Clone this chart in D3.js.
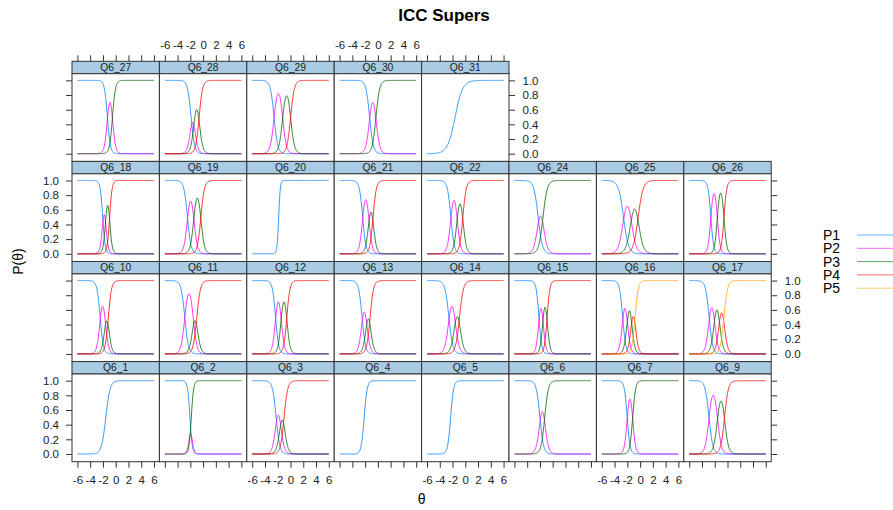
<!DOCTYPE html>
<html><head><meta charset="utf-8">
<script src="https://cdn.jsdelivr.net/npm/d3@7"></script>
<style>body{margin:0;background:#fff}svg{display:block;font-family:"Liberation Sans",Arial,sans-serif}</style>
</head><body><svg id="chart" width="893" height="510"></svg>
<script>
// ---- data ----
const itemNames = ["Q6_27","Q6_28","Q6_29","Q6_30","Q6_31",
  "Q6_18","Q6_19","Q6_20","Q6_21","Q6_22","Q6_24","Q6_25","Q6_26",
  "Q6_10","Q6_11","Q6_12","Q6_13","Q6_14","Q6_15","Q6_16","Q6_17",
  "Q6_1","Q6_2","Q6_3","Q6_4","Q6_5","Q6_6","Q6_7","Q6_9"];
const panelsPerRow = [5, 8, 8, 8];
// graded-response item slopes (a) and category boundaries (b), estimated from the curves
const slopes = [4.3,3.66,3.43,3.47,1.7, 5.12,3.62,8,3.9,3.74,3.0,2.58,4.55,
  3.94,3.49,4.03,3.71,3.22,4.63,4.05,3.57, 3,5.5,3.51,4.3,4.3,3.5,4.5,3.31];
const thresholds = [
  [-1.3,-0.5],[-1.88,-1.38,-0.62],[-2.575,-1.225,0.025],[-1.3,-0.3],[-1.6],
  [-2.03,-1.57,-0.95],[-2.45,-1.45,-0.35],[-1.85],[-2.385,-1.415,-0.755],[-2.265,-1.275,-0.385],[-2.28,-1.52],[-2.6,-1.4,-0.3],[-2.61,-1.59,-0.55],
  [-2.435,-1.645,-1.155],[-2.875,-1.545,-0.985],[-2.34,-1.46,-0.58],[-2.48,-1.78,-1.22],[-2.57,-1.61,-0.91],[-2.155,-1.525,-0.875],[-2.728,-2.012,-1.343,-0.787],[-2.876,-2.044,-1.268,-0.559],
  [-1.55],[-2.06,-1.85],[-2.245,-1.575,-1.005],[-2.15],[-2.3],[-2.0,-1.25],[-2.02,-1.16],[-2.895,-1.565,-0.465]
];
const categoryLabels = ["P1","P2","P3","P4","P5"];
const thetaTicks = [-6,-4,-2,0,2,4,6];
const probTicks = [0,0.2,0.4,0.6,0.8,1.0];
const thetaRange = [-6, 6];
const titleText = "ICC Supers";
const xLabel = "\u03b8";
const yLabel = "P(\u03b8)";

// ---- styles ----
const categoryColors = ["#0080ff","#ff00ff","#006400","#ff0000","#ffa500"];
const stripFill = "#a9cbe3";
const frameColor = "#333";

// ---- layout ----
const left = 72, colW = 87.4, top0 = 61.3, rowH = 100.1, stripH = 12.4, panelH = 87.7;

const svg = d3.select("#chart");
const x = d3.scaleLinear().domain([-6.85, 6.85]).range([0, colW]);
const y = d3.scaleLinear().domain([-0.105, 1.091]).range([panelH, 0]);

// graded response model category probabilities
function categoryProbs(theta, a, bs) {
  const cum = [1, ...bs.map(b => 1 / (1 + Math.exp(-a * (theta - b)))), 0];
  return d3.range(bs.length + 1).map(k => cum[k] - cum[k + 1]);
}

const thetaGrid = d3.range(thetaRange[0], thetaRange[1] + 1e-9, 0.04);
const line = d3.line().x(d => x(d[0])).y(d => y(d[1]));

let idx = 0;
const panels = [];
panelsPerRow.forEach((n, r) => {
  for (let c = 0; c < n; c++) { panels.push({ r, c, i: idx }); idx++; }
});

panels.forEach(p => {
  const px = left + p.c * colW, py = top0 + p.r * rowH;
  const g = svg.append("g").attr("transform", `translate(${px},${py})`);
  g.append("rect").attr("x", 0).attr("y", 0).attr("width", colW).attr("height", stripH)
    .attr("fill", stripFill).attr("stroke", frameColor).attr("stroke-width", 1);
  g.append("text").attr("x", colW / 2).attr("y", stripH / 2 + 3.6).attr("text-anchor", "middle")
    .attr("font-size", "10.3px").attr("fill", "#222").text(itemNames[p.i]);
  const pg = g.append("g").attr("transform", `translate(0,${stripH})`);
  pg.append("rect").attr("width", colW).attr("height", panelH).attr("fill", "#fff");
  const a = slopes[p.i], bs = thresholds[p.i];
  const probs = thetaGrid.map(t => categoryProbs(t, a, bs));
  const nCat = bs.length + 1;
  const cats = nCat === 2 ? [1] : d3.range(nCat);
  cats.forEach(k => {
    const ci = nCat === 2 ? 0 : k;
    pg.append("path").datum(thetaGrid.map((t, q) => [t, probs[q][k]]))
      .attr("d", line).attr("fill", "none").attr("stroke", categoryColors[ci])
      .attr("stroke-width", 1).attr("stroke-opacity", 0.8);
  });
  pg.append("rect").attr("width", colW).attr("height", panelH).attr("fill", "none")
    .attr("stroke", frameColor).attr("stroke-width", 1);
});

function styleAxis(g) {
  g.select(".domain").remove();
  g.selectAll("line").attr("stroke", frameColor);
  g.selectAll("text").attr("font-size", "11.5px").attr("fill", "#222")
    .attr("font-family", '"Liberation Sans",Arial,sans-serif');
}
const fmtX = d => String(d);
const fmtY = d3.format(".1f");

// left and right axes
panelsPerRow.forEach((n, r) => {
  const ax = d3.axisLeft(y).tickValues(probTicks).tickSize(6).tickPadding(7)
    .tickFormat(r % 2 === 1 ? fmtY : () => "");
  svg.append("g").attr("transform", `translate(${left},${top0 + r * rowH + stripH})`).call(ax).call(styleAxis);
  const ar = d3.axisRight(y).tickValues(probTicks).tickSize(6).tickPadding(7.5)
    .tickFormat(r % 2 === 0 ? fmtY : () => "");
  svg.append("g").attr("transform", `translate(${left + n * colW},${top0 + r * rowH + stripH})`).call(ar).call(styleAxis);
});
// top axes
for (let c = 0; c < panelsPerRow[0]; c++) {
  const ax = d3.axisTop(x).tickValues(thetaTicks).tickSize(6).tickPadding(6)
    .tickFormat(c % 2 === 1 ? fmtX : () => "");
  svg.append("g").attr("transform", `translate(${left + c * colW},${top0})`).call(ax).call(styleAxis);
}
// bottom axes
const lastRow = panelsPerRow.length - 1;
for (let c = 0; c < panelsPerRow[lastRow]; c++) {
  const ax = d3.axisBottom(x).tickValues(thetaTicks).tickSize(6).tickPadding(8.5)
    .tickFormat(c % 2 === 0 ? fmtX : () => "");
  svg.append("g").attr("transform", `translate(${left + c * colW},${top0 + lastRow * rowH + stripH + panelH})`).call(ax).call(styleAxis);
}

// title and axis labels
svg.append("text").attr("x", 444).attr("y", 21).attr("text-anchor", "middle")
  .attr("font-size", "17px").attr("font-weight", "bold").attr("fill", "#000").text(titleText);
const plotMidX = left + 4 * colW;
svg.append("text").attr("x", plotMidX).attr("y", 504).attr("text-anchor", "middle")
  .attr("font-size", "14px").attr("fill", "#000").text(xLabel);
svg.append("text").attr("transform", `translate(23,${top0 + 2 * rowH}) rotate(-90)`).attr("text-anchor", "middle")
  .attr("font-size", "14px").attr("fill", "#000").text(yLabel);

// legend
const lg = svg.append("g");
categoryLabels.forEach((lab, k) => {
  const cy = 235 + k * 13.3;
  lg.append("text").attr("x", 823).attr("y", cy + 5).attr("font-size", "14px").attr("fill", "#000").text(lab);
  lg.append("line").attr("x1", 857).attr("x2", 900).attr("y1", cy).attr("y2", cy)
    .attr("stroke", categoryColors[k]).attr("stroke-width", 1).attr("stroke-opacity", 0.6);
});
</script></body></html>
